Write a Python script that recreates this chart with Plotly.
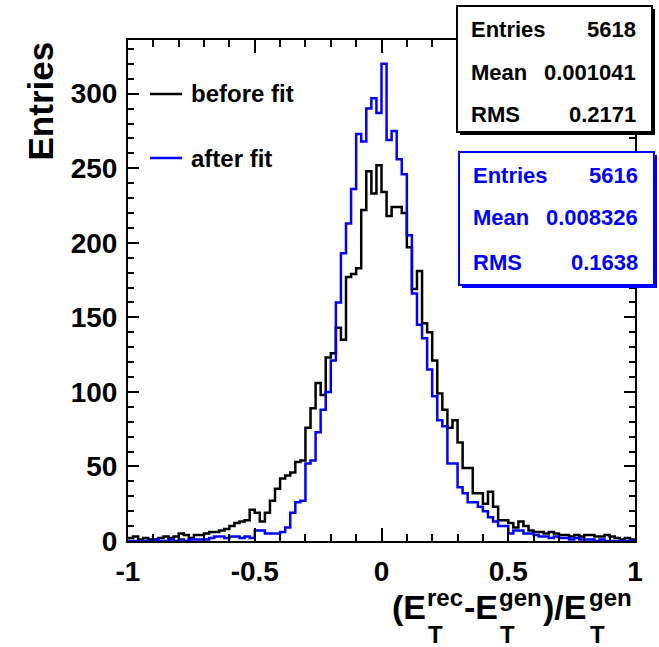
import numpy as np
import plotly.graph_objects as go

# ---------------- data ----------------
x_min, x_max, n_bins = -1.0, 1.0, 100

before_fit = [
    2, 3, 1, 2, 1, 1, 2, 3, 2, 3,
    5, 4, 2, 4, 4, 5, 6, 6, 7, 8,
    10, 12, 13, 14, 21, 19, 13, 19, 27, 35,
    42, 44, 46, 53, 54, 76, 89, 106, 98, 123,
    126, 143, 135, 177, 179, 183, 222, 248, 233, 252,
    234, 218, 224, 224, 220, 197, 169, 181, 146, 140,
    121, 99, 88, 76, 81, 66, 49, 49, 32, 32,
    25, 33, 23, 14, 14, 12, 9, 13, 10, 7,
    6, 6, 5, 6, 5, 4, 4, 3, 4, 3,
    4, 4, 3, 3, 4, 3, 2, 1, 2, 1,
]

after_fit = [
    0, 0, 0, 0, 0, 1, 0, 0, 1, 0,
    1, 0, 1, 1, 1, 1, 2, 3, 3, 2,
    3, 3, 2, 3, 2, 7, 7, 5, 5, 5,
    6, 9, 19, 26, 27, 52, 54, 73, 88, 100,
    121, 160, 193, 213, 236, 273, 268, 290, 297, 287,
    320, 269, 275, 256, 246, 205, 166, 145, 136, 115,
    97, 81, 77, 52, 52, 36, 32, 26, 26, 23,
    20, 16, 13, 10, 10, 5, 7, 7, 5, 5,
    4, 3, 3, 2, 3, 2, 2, 1, 2, 1,
    1, 1, 0, 1, 0, 0, 0, 0, 0, 0,
]

series_names = ["before fit", "after fit"]
stat_labels = ["Entries", "Mean", "RMS"]
stats_before = ["5618", "0.001041", "0.2171"]
stats_after = ["5616", "0.008326", "0.1638"]

x_tickvals = [-1, -0.5, 0, 0.5, 1]
x_ticktext = ["-1", "-0.5", "0", "0.5", "1"]
y_tickvals = [0, 50, 100, 150, 200, 250, 300]
y_max = 336

# ---------------- layout geometry ----------------
W, H = 659, 647
L, R, T, B = 128, 635, 40, 541
FONT = "Liberation Sans, Arial, sans-serif"
BLACK = "#000000"
BLUE = "#0000ff"


def px(xp):
    return (xp - L) / (R - L)


def py(yp):
    return (B - yp) / (B - T)


edges = np.linspace(x_min, x_max, n_bins + 1)


def step_xy(vals):
    xs = list(edges[:-1]) + [edges[-1]]
    ys = list(vals) + [vals[-1]]
    return xs, ys


fig = go.Figure()
for vals, color, name in [(before_fit, BLACK, series_names[0]), (after_fit, BLUE, series_names[1])]:
    xs, ys = step_xy(vals)
    fig.add_trace(go.Scatter(x=xs, y=ys, mode="lines", line=dict(shape="hv", color=color, width=2.5),
                             name=name, showlegend=False, hoverinfo="skip"))

tickfont = dict(family=FONT, size=28, color=BLACK, weight="bold")

fig.update_layout(
    width=W, height=H,
    margin=dict(l=L, r=W - R, t=T, b=H - B, pad=0),
    paper_bgcolor="white", plot_bgcolor="white",
    showlegend=False,
    xaxis=dict(range=[x_min, x_max], tickvals=x_tickvals, ticktext=x_ticktext,
               ticks="inside", ticklen=13, tickwidth=2, tickcolor=BLACK,
               minor=dict(dtick=0.1, tick0=0, ticks="inside", ticklen=7, tickwidth=2, tickcolor=BLACK),
               showline=True, linewidth=2, linecolor=BLACK, mirror="ticks",
               showgrid=False, zeroline=False, tickfont=tickfont, ticklabelstandoff=4),
    yaxis=dict(range=[0, y_max], tickvals=y_tickvals,
               ticks="inside", ticklen=11, tickwidth=2, tickcolor=BLACK,
               minor=dict(dtick=10, tick0=0, ticks="inside", ticklen=6, tickwidth=2, tickcolor=BLACK),
               showline=True, linewidth=2, linecolor=BLACK, mirror="ticks",
               showgrid=False, zeroline=False, tickfont=tickfont, ticklabelstandoff=3),
)

shapes = []
annotations = []

# y-axis title
annotations.append(dict(x=px(40), y=1.0, xref="paper", yref="paper", text="Entries",
                        textangle=-90, xanchor="center", yanchor="top", showarrow=False,
                        font=dict(family=FONT, size=35, color=BLACK, weight="bold")))

# x-axis title built from pieces (stacked sub/superscripts)
main_f = dict(family=FONT, size=34, color=BLACK, weight="bold")
scr_f = dict(family=FONT, size=24, color=BLACK, weight="bold")
main_y, sup_y, sub_y = 607, 597, 634
pieces = [
    ("(E", 390, main_y, main_f),
    ("rec", 425, sup_y, scr_f),
    ("T", 426, sub_y, scr_f),
    ("-E", 462, main_y, main_f),
    ("gen", 497, sup_y, scr_f),
    ("T", 498, sub_y, scr_f),
    (")/E", 541, main_y, main_f),
    ("gen", 587, sup_y, scr_f),
    ("T", 588, sub_y, scr_f),
]
for txt, xl, yc, f in pieces:
    annotations.append(dict(x=px(xl), y=py(yc), xref="paper", yref="paper", text=txt,
                            xanchor="left", yanchor="middle", showarrow=False, font=f))

# legend
for name, color, yl in [(series_names[0], BLACK, 94), (series_names[1], BLUE, 158)]:
    shapes.append(dict(type="line", xref="paper", yref="paper", x0=px(150), x1=px(182),
                       y0=py(yl), y1=py(yl), line=dict(color=color, width=2.5)))
    annotations.append(dict(x=px(189), y=py(yl), xref="paper", yref="paper", text=name,
                            xanchor="left", yanchor="middle", showarrow=False,
                            font=dict(family=FONT, size=24, color=BLACK, weight="bold")))


# stats boxes
def stats_box(x0, x1, y0, y1, color, values, rows_y):
    sh = 3
    shapes.append(dict(type="rect", xref="paper", yref="paper", layer="above",
                       x0=px(x0 + sh), x1=px(x1 + sh), y0=py(y1 + sh), y1=py(y0 + sh),
                       fillcolor=color, line=dict(width=0)))
    shapes.append(dict(type="rect", xref="paper", yref="paper", layer="above",
                       x0=px(x0), x1=px(x1), y0=py(y1), y1=py(y0),
                       fillcolor="white", line=dict(color=color, width=2)))
    for lab, val, yr in zip(stat_labels, values, rows_y):
        f = dict(family=FONT, size=22, color=color, weight="bold")
        annotations.append(dict(x=px(x0 + 12), y=py(yr), xref="paper", yref="paper", text=lab,
                                xanchor="left", yanchor="middle", showarrow=False, font=f))
        annotations.append(dict(x=px(x1 - 14), y=py(yr), xref="paper", yref="paper", text=val,
                                xanchor="right", yanchor="middle", showarrow=False, font=f))


stats_box(457, 652, 6, 132, BLACK, stats_before, [30, 72, 114])
stats_box(459, 654, 152, 285, BLUE, stats_after, [175, 218, 262])

fig.update_layout(shapes=shapes, annotations=annotations)
fig.write_html("out.html")
